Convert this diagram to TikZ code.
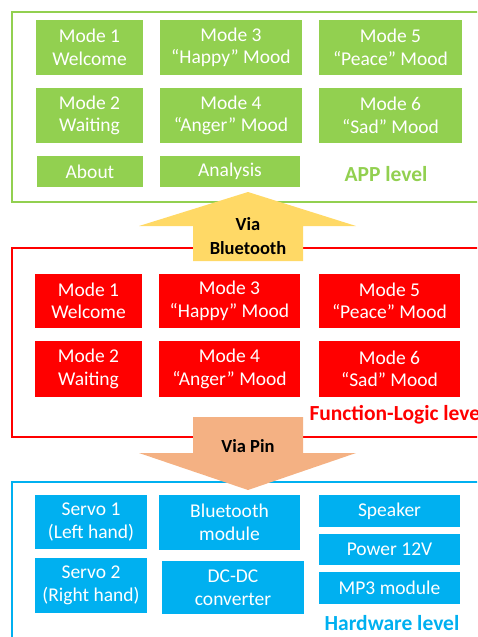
\documentclass[tikz,border=0pt]{standalone}
\usepackage{fontspec}
\setmainfont{Carlito}
\usepackage{xcolor}
\usepackage{tikz}
\usetikzlibrary{positioning}
\definecolor{appgreen}{HTML}{92D050}
\definecolor{logicred}{HTML}{FF0000}
\definecolor{hwblue}{HTML}{00B0F0}
\definecolor{btyellow}{HTML}{FFD966}
\definecolor{pinorange}{HTML}{F4B183}
\newcommand{\boxfont}{\fontsize{19.5}{22.5}\selectfont}
\newcommand{\levelfont}{\fontsize{21.5}{24}\selectfont\bfseries}
\newcommand{\viafont}{\fontsize{18.5}{24}\selectfont\bfseries}

\begin{document}
\begin{tikzpicture}[
  x=1pt, y=-1pt,
  panel/.style={line width=2.2pt},
  box/.style={rectangle, inner sep=0pt, align=center, text=white, font=\boxfont},
  appbox/.style={box, fill=appgreen},
  logicbox/.style={box, fill=logicred},
  hwbox/.style={box, fill=hwblue},
  level/.style={font=\levelfont},
  via/.style={align=center, font=\viafont, text=black}
]
\useasboundingbox (0,0) rectangle (477,637);
\clip (0,0) rectangle (477,637);

% three layers
\draw[panel, appgreen] (12,12) rectangle (495,202);
\draw[panel, logicred] (12,248) rectangle (495,437);
\draw[panel, hwblue] (12,482) rectangle (495,660);

% APP level
\node[appbox, minimum width=107, minimum height=55] (app1) at (89.5,47.5) {Mode 1\\Welcome};
\node[appbox, minimum width=142, minimum height=55] (app3) at (231,47.5) {Mode 3\\“Happy” Mood};
\node[appbox, minimum width=143, minimum height=55] (app5) at (390.5,47.5) {Mode 5\\“Peace” Mood};
\node[appbox, minimum width=107, minimum height=55] (app2) at (89.5,115.5) {Mode 2\\Waiting};
\node[appbox, minimum width=142, minimum height=55] (app4) at (231,115.5) {Mode 4\\“Anger” Mood};
\node[appbox, minimum width=143, minimum height=55] (app6) at (390.5,115.5) {Mode 6\\“Sad” Mood};
\node[appbox, minimum width=106, minimum height=31] (about) at (90,171.5) {About};
\node[appbox, minimum width=140, minimum height=31] (analysis) at (230,171.5) {Analysis};
\node[level, text=appgreen] (applevel) at (386,174) {APP level};

% Function-Logic level
\node[logicbox, minimum width=107, minimum height=54] (fl1) at (88.5,301) {Mode 1\\Welcome};
\node[logicbox, minimum width=141, minimum height=54] (fl3) at (229.5,301) {Mode 3\\“Happy” Mood};
\node[logicbox, minimum width=141, minimum height=54] (fl5) at (389.5,301) {Mode 5\\“Peace” Mood};
\node[logicbox, minimum width=107, minimum height=56] (fl2) at (88.5,369) {Mode 2\\Waiting};
\node[logicbox, minimum width=141, minimum height=56] (fl4) at (229.5,369) {Mode 4\\“Anger” Mood};
\node[logicbox, minimum width=141, minimum height=56] (fl6) at (389.5,369) {Mode 6\\“Sad” Mood};
\node[level, text=logicred, anchor=west] (fllevel) at (306,415) {Function-Logic level};

% Hardware level
\node[hwbox, minimum width=112, minimum height=54] (servo1) at (91,522) {Servo 1\\(Left hand)};
\node[hwbox, minimum width=112, minimum height=55] (servo2) at (91,585.5) {Servo 2\\(Right hand)};
\node[hwbox, minimum width=141, minimum height=55] (btmod) at (229.5,522.5) {Bluetooth\\module};
\node[hwbox, minimum width=142, minimum height=53] (dcdc) at (233,587.5) {DC-DC\\converter};
\node[hwbox, minimum width=141, minimum height=32] (speaker) at (389.5,511) {Speaker};
\node[hwbox, minimum width=141, minimum height=31] (power) at (389.5,549.5) {Power 12V};
\node[hwbox, minimum width=141, minimum height=32] (mp3) at (389.5,588) {MP3 module};
\node[level, text=hwblue] (hwlevel) at (392,623) {Hardware level};

% block arrows between the layers
\fill[btyellow] (193,261) -- (193,226) -- (139,226) -- (248,192) -- (356,226) -- (303,226) -- (303,261) -- cycle;
\node[via] (viabt) at (248,236) {Via\\Bluetooth};
\fill[pinorange] (193,417) -- (193,453) -- (139,453) -- (248,490) -- (356,453) -- (303,453) -- (303,417) -- cycle;
\node[via] (viapin) at (248,446) {Via Pin};
\end{tikzpicture}
\end{document}
